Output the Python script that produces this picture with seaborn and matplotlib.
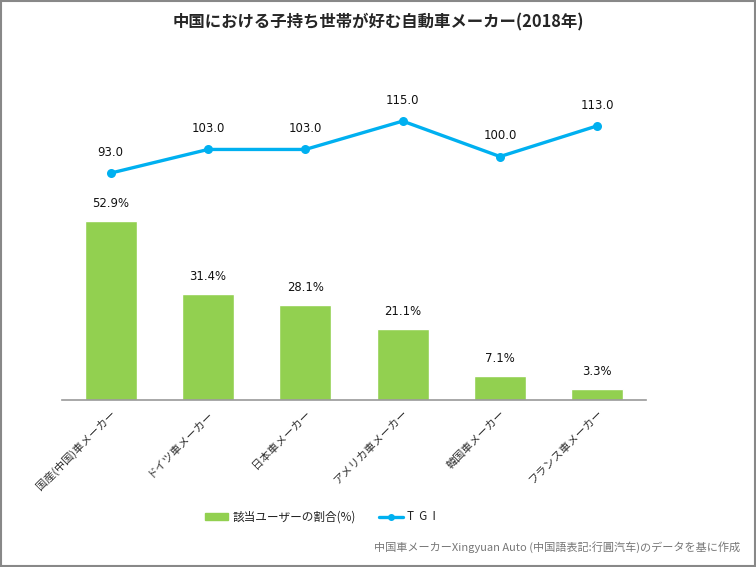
import numpy as np
import pandas as pd
import matplotlib
matplotlib.use('Agg')
import matplotlib.pyplot as plt
import seaborn as sns
from matplotlib.patches import Rectangle
from matplotlib.lines import Line2D

makers = ['国産(中国)車メーカー', 'ドイツ車メーカー', '日本車メーカー',
          'アメリカ車メーカー', '韓国車メーカー', 'フランス車メーカー']
share = [52.9, 31.4, 28.1, 21.1, 7.1, 3.3]
tgi = [93.0, 103.0, 103.0, 115.0, 100.0, 113.0]

sns.set_style('white')
plt.rcParams['font.family'] = ['Noto Sans CJK JP', 'DejaVu Sans']

df = pd.DataFrame({'maker': makers, 'share': share, 'tgi': tgi, 'pos': range(len(makers))})

fig = plt.figure(figsize=(7.56, 5.67), dpi=100)
ax = fig.add_axes([62/756, 1-400/567, 584/756, 338/567])

sns.barplot(x='maker', y='share', data=df, color='#92D050', width=0.535,
            saturation=1, ax=ax)
ax.set_xlim(-0.5, 5.5)
ax.set_ylim(0, 100)
for i, v in enumerate(share):
    ax.text(i, v + 3.3, f'{v:.1f}%', ha='center', va='bottom', fontsize=8.4,
            family='DejaVu Sans', color='#111111')

ax2 = ax.twinx()
sns.lineplot(x='pos', y='tgi', data=df, color='#00B0F0', linewidth=2.4,
             marker='o', markersize=6.5, markeredgewidth=0, ax=ax2)
ax2.set_ylim(-3, 140)
for i, v in enumerate(tgi):
    ax2.text(i, v + 6.0, f'{v:.1f}', ha='center', va='bottom', fontsize=8.4,
             family='DejaVu Sans', color='#111111')

for a in (ax, ax2):
    a.set_xlabel('')
    a.set_ylabel('')
    a.set_yticks([])
    for s in a.spines.values():
        s.set_visible(False)
ax.spines['bottom'].set_visible(True)
ax.spines['bottom'].set_color('#999999')
ax.spines['bottom'].set_linewidth(1.2)

ax.set_xticks(range(len(makers)))
ax.set_xticklabels(makers, rotation=45, ha='right', rotation_mode='anchor',
                   fontsize=8, color='#333333')
ax.tick_params(axis='x', length=0, pad=6)

fig.text(0.5, 1-22/567, '中国における子持ち世帯が好む自動車メーカー(2018年)',
         ha='center', va='center', fontsize=11.8, fontweight='bold')

handles = [Rectangle((0, 0), 1, 1, color='#92D050'),
           Line2D([0], [0], color='#00B0F0', lw=2.4, marker='o', markersize=4)]
fig.legend(handles, ['該当ユーザーの割合(%)', 'T  G  I'], loc='center left',
           bbox_to_anchor=(194/756, 1-517/567), ncol=2, frameon=False,
           fontsize=8.4, columnspacing=2.0, handlelength=2.0, handleheight=0.6,
           handletextpad=0.4, labelcolor='#222222')

fig.text(740/756, 1-547/567,
         '中国車メーカーXingyuan Auto (中国語表記:行圓汽车)のデータを基に作成',
         ha='right', va='center', fontsize=8, color='#777777')

fig.add_artist(Rectangle((0.001, 0.001), 0.998, 0.997, transform=fig.transFigure,
                         fill=False, edgecolor='#888888', linewidth=1.5))

plt.savefig('out.png', dpi=100)
